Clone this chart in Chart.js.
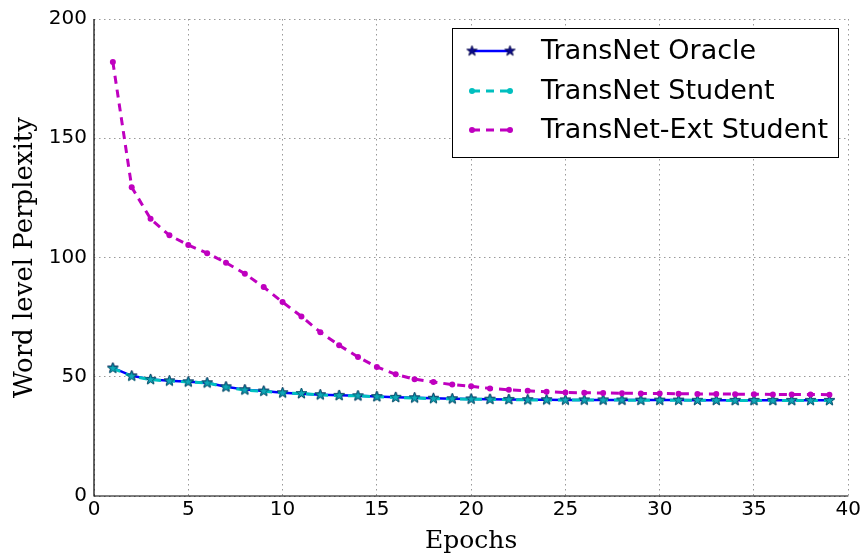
<!DOCTYPE html>
<html><head><meta charset="utf-8">
<script src="https://cdn.jsdelivr.net/npm/chart.js@4/dist/chart.umd.min.js"></script>
<style>html,body{margin:0;padding:0;background:#fff}#wrap{width:863px;height:556px}</style>
</head><body><div id="wrap"><canvas id="c" width="863" height="556"></canvas></div>
<script>
const epochs = [1,2,3,4,5,6,7,8,9,10,11,12,13,14,15,16,17,18,19,20,21,22,23,24,25,26,27,28,29,30,31,32,33,34,35,36,37,38,39];
const oracle = [53.7,50.4,48.9,48.3,47.9,47.5,45.8,44.6,44.0,43.3,42.9,42.5,42.2,42.0,41.7,41.4,41.2,41.0,40.8,40.7,40.6,40.5,40.4,40.4,40.3,40.3,40.3,40.2,40.2,40.2,40.2,40.1,40.1,40.1,40.1,40.1,40.1,40.1,40.1];
const student = [53.5,50.2,48.8,48.2,47.8,47.4,45.7,44.4,43.9,43.2,43.0,42.4,42.1,42.0,41.6,41.3,41.1,40.8,40.7,40.6,40.5,40.4,40.3,40.3,40.2,40.2,40.2,40.2,40.1,40.1,40.1,40.1,40.1,40.0,40.0,40.0,40.0,40.0,40.0];
const extStudent = [182.0,129.5,116.2,109.3,105.2,101.8,97.8,93.2,87.6,81.3,75.3,68.7,63.2,58.3,54.1,51.0,49.0,47.8,46.7,46.0,45.1,44.5,44.1,43.7,43.4,43.3,43.2,43.1,43.0,43.0,42.9,42.8,42.8,42.7,42.7,42.6,42.6,42.6,42.5];
const xTicks = [0,5,10,15,20,25,30,35,40];
const yTicks = [0,50,100,150,200];
const seriesNames = ['TransNet Oracle','TransNet Student','TransNet-Ext Student'];

function makeStar(r, fill, stroke){
  const c = document.createElement('canvas');
  const s = Math.ceil(r*2+2); c.width = s; c.height = s;
  const g = c.getContext('2d');
  g.beginPath();
  for (let i=0;i<10;i++){
    const rr = i%2===0 ? r : r*0.4;
    const a = -Math.PI/2 + i*Math.PI/5;
    const x = s/2 + rr*Math.cos(a), y = s/2 + rr*Math.sin(a);
    i===0 ? g.moveTo(x,y) : g.lineTo(x,y);
  }
  g.closePath(); g.fillStyle = fill; g.fill();
  g.lineWidth = 0.8; g.strokeStyle = stroke; g.stroke();
  return c;
}
const star = makeStar(5.5, '#0a0a8a', '#000044');
const cyanStar = makeStar(5.5, '#10a8b8', '#006070');

const legendPlugin = {
  id: 'boxLegend',
  afterDraw(chart){
    const ctx = chart.ctx;
    const x0 = 452, y0 = 28, w = 386, h = 129;
    ctx.save();
    ctx.fillStyle = '#fff'; ctx.fillRect(x0,y0,w,h);
    ctx.strokeStyle = '#000'; ctx.lineWidth = 1; ctx.strokeRect(x0+0.5,y0+0.5,w,h);
    const rows = [51, 91, 130];
    ctx.font = '27px "DejaVu Sans"'; ctx.textBaseline = 'middle'; ctx.fillStyle = '#000';
    ctx.strokeStyle = '#0000ff'; ctx.lineWidth = 2.5; ctx.setLineDash([]);
    ctx.beginPath(); ctx.moveTo(472, rows[0]); ctx.lineTo(510, rows[0]); ctx.stroke();
    ctx.drawImage(star, 472-star.width/2, rows[0]-star.height/2);
    ctx.drawImage(star, 510-star.width/2, rows[0]-star.height/2);
    ctx.strokeStyle = '#00bfbf'; ctx.lineWidth = 3; ctx.setLineDash([8,6]);
    ctx.beginPath(); ctx.moveTo(472, rows[1]); ctx.lineTo(510, rows[1]); ctx.stroke();
    ctx.setLineDash([]); ctx.fillStyle = '#00bfbf';
    [472,510].forEach(x=>{ctx.beginPath();ctx.arc(x,rows[1],3,0,Math.PI*2);ctx.fill();});
    ctx.strokeStyle = '#bf00bf'; ctx.lineWidth = 3; ctx.setLineDash([8,6]);
    ctx.beginPath(); ctx.moveTo(472, rows[2]); ctx.lineTo(510, rows[2]); ctx.stroke();
    ctx.setLineDash([]); ctx.fillStyle = '#bf00bf';
    [472,510].forEach(x=>{ctx.beginPath();ctx.arc(x,rows[2],3,0,Math.PI*2);ctx.fill();});
    ctx.fillStyle = '#000';
    seriesNames.forEach((n,i)=>ctx.fillText(n, 541, rows[i]+1));
    ctx.restore();
  }
};

const spinePlugin = {
  id: 'spines',
  afterDatasetsDraw(chart){
    const {ctx, chartArea:a} = chart;
    ctx.save(); ctx.strokeStyle = '#000'; ctx.lineWidth = 1.2; ctx.setLineDash([]);
    ctx.beginPath(); ctx.moveTo(a.left, a.top); ctx.lineTo(a.left, a.bottom); ctx.lineTo(a.right, a.bottom); ctx.stroke();
    ctx.restore();
  }
};

new Chart(document.getElementById('c'), {
  type: 'line',
  data: {
    datasets: [
      {label: seriesNames[0], data: epochs.map((e,i)=>({x:e,y:oracle[i]})), borderColor:'#0000ff', borderWidth:2.5, pointStyle: star, pointRadius:5, tension:0, order:3},
      {label: seriesNames[1], data: epochs.map((e,i)=>({x:e,y:student[i]})), borderColor:'#00c0c0', backgroundColor:'#00c0c0', borderWidth:3, borderDash:[8,6], pointStyle: cyanStar, pointRadius:5, tension:0, order:2},
      {label: seriesNames[2], data: epochs.map((e,i)=>({x:e,y:extStudent[i]})), borderColor:'#bf00bf', backgroundColor:'#bf00bf', borderWidth:3, borderDash:[8,6], pointRadius:3, pointBorderWidth:0, tension:0, order:1}
    ]
  },
  options: {
    responsive:false, animation:false,
    layout:{padding:{left:0,right:12,top:17,bottom:0}},
    plugins:{legend:{display:false}, tooltip:{enabled:false}},
    scales:{
      x:{type:'linear', min:0, max:40,
        afterBuildTicks(s){ s.ticks = xTicks.map(v=>({value:v})); },
        afterFit(s){ s.height = 60; },
        grid:{color:'#999', lineWidth:1, drawTicks:false},
        border:{display:false, dash:[1.5,3.5]},
        ticks:{color:'#000', font:{family:'DejaVu Sans', size:20}, padding:2, maxRotation:0},
        title:{display:true, text:'Epochs', color:'#000', font:{family:'DejaVu Serif', size:25}, padding:{top:0,bottom:0}}
      },
      y:{min:0, max:200,
        afterBuildTicks(s){ s.ticks = yTicks.map(v=>({value:v})); },
        afterFit(s){ s.width = 94; },
        grid:{color:'#999', lineWidth:1, drawTicks:false},
        border:{display:false, dash:[1.5,3.5]},
        ticks:{color:'#000', font:{family:'DejaVu Sans', size:20}, padding:7},
        title:{display:true, text:'Word level Perplexity', color:'#000', font:{family:'DejaVu Serif', size:26}, padding:{top:10,bottom:0}}
      }
    }
  },
  plugins:[spinePlugin, legendPlugin]
});
</script></body></html>
